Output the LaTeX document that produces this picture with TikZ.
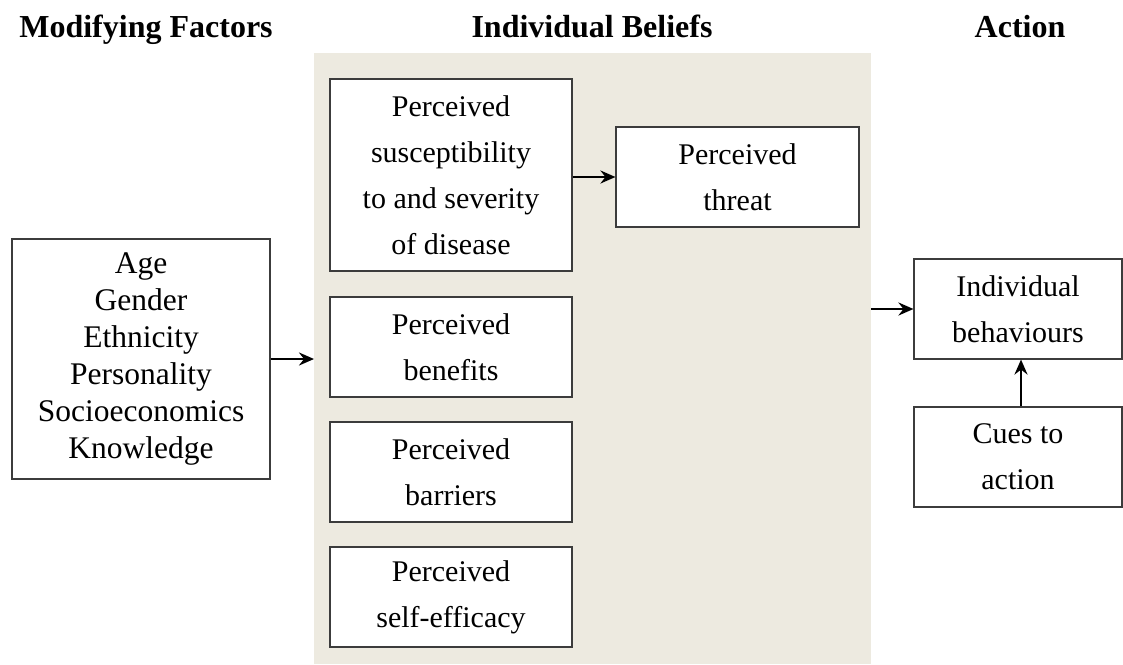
\documentclass[tikz,border=0pt]{standalone}
\usepackage{fontspec}
\setmainfont{Liberation Serif}
\usepackage{xcolor}
\usetikzlibrary{arrows.meta, positioning, calc}

\definecolor{beliefbg}{RGB}{237,234,224}
\definecolor{boxline}{RGB}{60,60,60}

\begin{document}
\begin{tikzpicture}[
    x=1pt, y=-1pt,
    heading/.style={font=\fontsize{32}{36}\selectfont\bfseries, anchor=base, inner sep=0pt},
    belief/.style={rectangle, draw=boxline, line width=1.1pt, fill=white, align=center, text centered, minimum width=242pt, minimum height=100pt, inner sep=0pt, font=\fontsize{30}{46}\selectfont},
    factor/.style={rectangle, draw=boxline, line width=1.1pt, fill=white, align=center, minimum width=258pt, minimum height=240pt, inner sep=0pt, font=\fontsize{31.5}{37}\selectfont},
    action/.style={rectangle, draw=boxline, line width=1.1pt, fill=white, align=center, minimum width=208pt, minimum height=100pt, inner sep=0pt, font=\fontsize{30}{46}\selectfont},
    arrow/.style={line width=2.6pt, -{Stealth[length=15pt, width=13pt, inset=5pt]}}
]
\useasboundingbox (0,0) rectangle (1123,664);

% Background panel
\node (beliefs) [rectangle, fill=beliefbg, minimum width=557pt, minimum height=611pt, inner sep=0pt, anchor=north west] at (314,53) {};

% Headings
\node (modhead) [heading] at (146,37) {Modifying Factors};
\node (belhead) [heading] at (592,37) {Individual Beliefs};
\node (acthead) [heading] at (1020,37) {Action};

% Nodes
\node (factors) [factor] at (141,359) {Age\\Gender\\Ethnicity\\Personality\\Socioeconomics\\Knowledge};
\node (suscept) [belief, minimum height=192pt] at (451,175) {Perceived\\susceptibility\\to and severity\\of disease};
\node (threat) [belief, minimum width=243pt] at (737.5,177) {Perceived\\threat};
\node (benefits) [belief] at (451,347) {Perceived\\benefits};
\node (barriers) [belief] at (451,472) {Perceived\\barriers};
\node (efficacy) [belief] at (451,597) {Perceived\\self-efficacy};
\node (behaviours) [action] at (1018,309) {Individual\\behaviours};
\node (cues) [action] at (1018,457) {Cues to\\action};

% Connections
\draw [arrow] (factors.east) -- (factors.east -| beliefs.west);
\draw [arrow] (threat.west -| suscept.east) -- (threat.west);
\draw [arrow] (beliefs.east |- behaviours.west) -- (behaviours.west);
\draw [arrow] ([xshift=3pt]cues.north) -- ([xshift=3pt]behaviours.south);

\end{tikzpicture}
\end{document}
